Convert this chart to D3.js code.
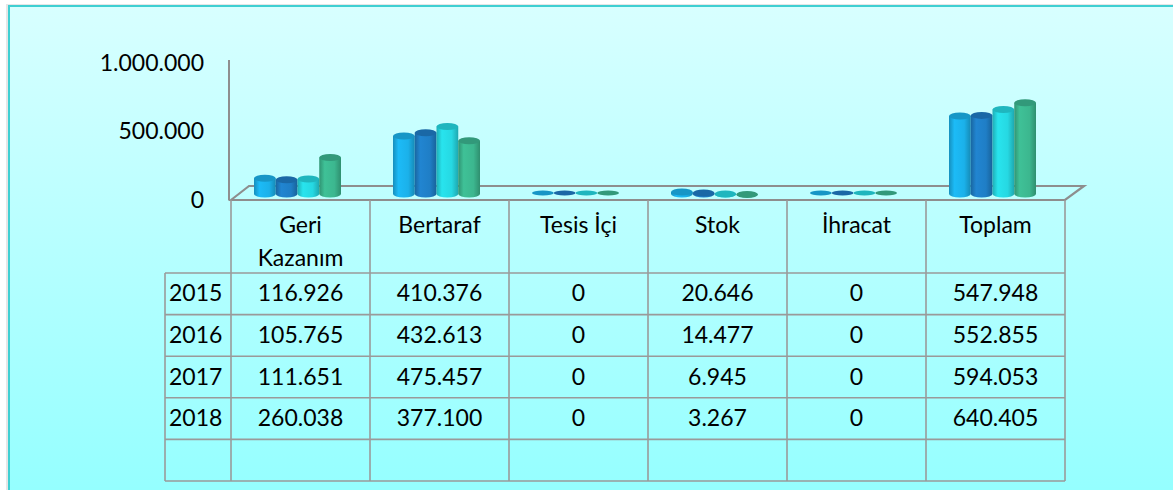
<!DOCTYPE html>
<html>
<head>
<meta charset="utf-8">
<script src="https://d3js.org/d3.v7.min.js"></script>
<style>
  body { margin: 0; background: #fff; }
  svg { display: block; font-family: Lato, "Open Sans", sans-serif; }
</style>
</head>
<body>
<script>
// Data
const categories = ["Geri Kazanım", "Bertaraf", "Tesis İçi", "Stok", "İhracat", "Toplam"];
const years = ["2015", "2016", "2017", "2018"];
const values = {
  "2015": [116926, 410376, 0, 20646, 0, 547948],
  "2016": [105765, 432613, 0, 14477, 0, 552855],
  "2017": [111651, 475457, 0, 6945, 0, 594053],
  "2018": [260038, 377100, 0, 3267, 0, 640405]
};
const yTicks = [0, 500000, 1000000];
const colors = ["#1bb1ea", "#1f7ec6", "#26d8e2", "#3cb78f"];
const topColors = ["#1796c6", "#1a68a6", "#1fb6be", "#32997a"];

const W = 1173, H = 490;
const svg = d3.select("body").append("svg").attr("width", W).attr("height", H);
const defs = svg.append("defs");

// Background gradient
const bg = defs.append("linearGradient").attr("id", "bg").attr("x1", 0).attr("y1", 0).attr("x2", 0).attr("y2", 1);
bg.append("stop").attr("offset", "0%").attr("stop-color", "#d8ffff");
bg.append("stop").attr("offset", "100%").attr("stop-color", "#94ffff");

svg.append("rect").attr("x", 6).attr("y", 4).attr("width", W).attr("height", H).attr("fill", "#e6e6e6");
svg.append("rect").attr("x", 9).attr("y", 6).attr("width", W).attr("height", H)
   .attr("fill", "url(#bg)").attr("stroke", "#3fcfd2").attr("stroke-width", 2);

// Cylinder gradients
colors.forEach((c, i) => {
  const g = defs.append("linearGradient").attr("id", "cyl" + i).attr("x1", 0).attr("x2", 1).attr("y1", 0).attr("y2", 0);
  g.append("stop").attr("offset", "0%").attr("stop-color", d3.color(c).darker(0.6));
  g.append("stop").attr("offset", "25%").attr("stop-color", d3.color(c).brighter(0.15));
  g.append("stop").attr("offset", "70%").attr("stop-color", c);
  g.append("stop").attr("offset", "100%").attr("stop-color", d3.color(c).darker(0.7));
});

// Scales
const left = 231, right = 1065;
const x = d3.scaleBand().domain(categories).range([left, right]);
const xInner = d3.scaleBand().domain(years).range([23, x.bandwidth() - 29]);
const yAxisScale = d3.scaleLinear().domain([0, 1000000]).range([200, 63]);
const yBar = d3.scaleLinear().domain([0, 1000000]).range([195, 51]);
const fmt = d3.formatLocale({ decimal: ",", thousands: ".", grouping: [3], currency: ["", ""] }).format(",d");

const lineColor = "#8e8e8e";

// Y axis
svg.append("line").attr("x1", 229).attr("x2", 229).attr("y1", 60).attr("y2", 200)
   .attr("stroke", lineColor).attr("stroke-width", 2);
svg.append("g")
   .attr("transform", "translate(204,0)")
   .call(d3.axisLeft(yAxisScale).tickValues(yTicks).tickSize(0).tickPadding(0).tickFormat(fmt))
   .call(g => g.select(".domain").remove())
   .selectAll("text")
   .attr("fill", "#000")
   .style("font-size", "23px")
   .style("font-family", "Lato, sans-serif");

// Floor
svg.append("path")
   .attr("d", `M${left},200 L${left + 18},186 L${right + 19},186 L${right},200 Z`)
   .attr("fill", "none").attr("stroke", lineColor).attr("stroke-width", 2.2);

// Bars (cylinders)
const ry = 3.5;
years.forEach((yr, i) => {
  const g = svg.append("g");
  values[yr].forEach((v, ci) => {
    const x0 = x(categories[ci]) + xInner(yr);
    const w = xInner.bandwidth();
    const cx = x0 + w / 2;
    const yb = 194;
    if (v === 0) {
      g.append("ellipse").attr("cx", cx).attr("cy", yb - 1).attr("rx", w / 2).attr("ry", 2.5)
       .attr("fill", topColors[i]);
      return;
    }
    const yt = yBar(v);
    g.append("path")
     .attr("d", `M${x0},${yt} L${x0},${yb} A${w / 2},${ry} 0 0 0 ${x0 + w},${yb} L${x0 + w},${yt} Z`)
     .attr("fill", `url(#cyl${i})`);
    g.append("ellipse").attr("cx", cx).attr("cy", yt).attr("rx", w / 2).attr("ry", ry)
     .attr("fill", topColors[i]);
  });
});

// Table
const rowTop = 273, rowH = 41.6, yearLeft = 165;
const nRows = years.length + 1;
const tableBottom = rowTop + rowH * nRows;
const grid = svg.append("g").attr("stroke", "#9a9a9a").attr("stroke-width", 1.6);

// vertical lines of header + body
x.domain().concat([null]).forEach(c => {
  const xx = c === null ? right : x(c);
  grid.append("line").attr("x1", xx).attr("x2", xx).attr("y1", 200).attr("y2", tableBottom);
});
grid.append("line").attr("x1", yearLeft).attr("x2", yearLeft).attr("y1", rowTop).attr("y2", tableBottom);
d3.range(nRows + 1).forEach(r => {
  const yy = rowTop + r * rowH;
  grid.append("line").attr("x1", yearLeft).attr("x2", right).attr("y1", yy).attr("y2", yy);
});

// Header labels
const head = svg.append("g").attr("font-size", "23px").attr("fill", "#000").attr("text-anchor", "middle");
categories.forEach(c => {
  const parts = c === "Geri Kazanım" ? ["Geri", "Kazanım"] : [c];
  parts.forEach((p, k) => {
    head.append("text").attr("x", x(c) + x.bandwidth() / 2).attr("y", 225 + k * 33)
        .attr("dy", "0.35em").text(p);
  });
});

// Body
const body = svg.append("g").attr("font-size", "23px").attr("fill", "#000");
years.forEach((yr, r) => {
  const cy = rowTop + r * rowH + rowH / 2;
  body.append("text").attr("x", yearLeft + 4).attr("y", cy).attr("dy", "0.33em").text(yr);
  values[yr].forEach((v, ci) => {
    body.append("text").attr("x", x(categories[ci]) + x.bandwidth() / 2).attr("y", cy)
        .attr("dy", "0.33em").attr("text-anchor", "middle").text(fmt(v));
  });
});
</script>
</body>
</html>
